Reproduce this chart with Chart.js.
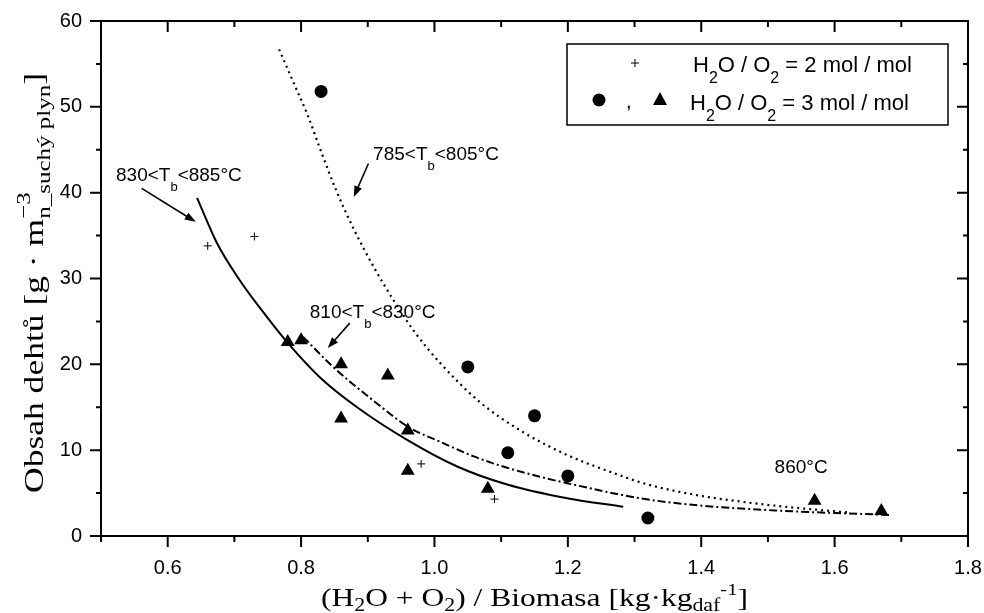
<!DOCTYPE html>
<html>
<head>
<meta charset="utf-8">
<script src="https://cdn.jsdelivr.net/npm/chart.js@4.4.0/dist/chart.umd.min.js"></script>
<style>
  body { margin: 0; background: #fff; }
</style>
</head>
<body>
<canvas id="graf" width="984" height="613"></canvas>
<script>
// namerene body
const plusX = [0.66, 0.73, 0.98, 1.09];
const plusY = [33.8, 34.9, 8.4, 4.3];

const kruhX = [0.83, 1.05, 1.15, 1.11, 1.20, 1.32];
const kruhY = [51.8, 19.7, 14.0, 9.7, 7.0, 2.1];

const trojX = [0.78, 0.80, 0.86, 0.93, 0.86, 0.96, 0.96, 1.08, 1.57, 1.67];
const trojY = [22.6, 22.8, 20.0, 18.7, 13.7, 12.3, 7.6, 5.5, 4.1, 2.9];

// krivky
const plnaX = [0.644, 0.674, 0.708, 0.749, 0.780, 0.828, 0.884, 0.959, 1.034, 1.109, 1.199, 1.283];
const plnaY = [39.4, 34.1, 29.8, 25.5, 22.5, 18.5, 15.0, 11.2, 8.1, 6.0, 4.4, 3.4];

const carbX = [0.803, 0.848, 0.908, 0.963, 1.008, 1.058, 1.109, 1.158, 1.199, 1.308, 1.398, 1.518, 1.683];
const carbY = [23.2, 19.7, 15.8, 12.6, 11.0, 9.3, 7.95, 6.9, 6.15, 4.4, 3.55, 2.95, 2.45];

const tecX = [0.767, 0.790, 0.809, 0.830, 0.853, 0.880, 0.910, 0.940, 0.970, 1.008, 1.068, 1.133, 1.200, 1.259, 1.320, 1.398, 1.470, 1.540, 1.620];
const tecY = [56.7, 52.6, 49.2, 44.8, 40.2, 35.6, 31.2, 27.3, 23.8, 20.2, 15.6, 12.1, 9.4, 7.6, 6.0, 4.7, 3.9, 3.3, 2.75];

const xMin = 0.5, xMax = 1.8;
const yMin = 0, yMax = 60;

function body(xs, ys) {
  return xs.map((x, i) => ({ x: x, y: ys[i] }));
}

const sans = "'Liberation Sans', Arial, sans-serif";
const serif = "'Liberation Serif', 'Times New Roman', serif";

// text s indexy: casti [text, velikost, posun y, stack]
function bohatyText(ctx, casti, font) {
  let w = 0;
  let i = 0;
  const polozky = [];
  while (i < casti.length) {
    const c = casti[i];
    ctx.font = c[1] + "px " + font;
    const sirka = ctx.measureText(c[0]).width;
    if (c[3] && i + 1 < casti.length) {
      const d = casti[i + 1];
      ctx.font = d[1] + "px " + font;
      const sirka2 = ctx.measureText(d[0]).width;
      polozky.push({ t: c[0], s: c[1], dy: c[2], x: w });
      polozky.push({ t: d[0], s: d[1], dy: d[2], x: w });
      w += Math.max(sirka, sirka2);
      i += 2;
    } else {
      polozky.push({ t: c[0], s: c[1], dy: c[2], x: w });
      w += sirka;
      i += 1;
    }
  }
  return { polozky: polozky, sirka: w };
}

function kresliText(ctx, casti, font, x, y, cilovaSirka) {
  const r = bohatyText(ctx, casti, font);
  let k = 1;
  if (cilovaSirka) k = cilovaSirka / r.sirka;
  ctx.save();
  ctx.translate(x, y);
  ctx.scale(k, 1);
  ctx.fillStyle = "#000";
  ctx.textBaseline = "alphabetic";
  ctx.textAlign = "left";
  r.polozky.forEach((p) => {
    ctx.font = p.s + "px " + font;
    ctx.fillText(p.t, p.x, p.dy);
  });
  ctx.restore();
  return r.sirka * k;
}

function sipka(ctx, x1, y1, x2, y2) {
  const uhel = Math.atan2(y2 - y1, x2 - x1);
  const d = 11, s = 4;
  ctx.save();
  ctx.strokeStyle = "#000";
  ctx.fillStyle = "#000";
  ctx.lineWidth = 1.6;
  ctx.beginPath();
  ctx.moveTo(x1, y1);
  ctx.lineTo(x2 - Math.cos(uhel) * d * 0.8, y2 - Math.sin(uhel) * d * 0.8);
  ctx.stroke();
  ctx.beginPath();
  ctx.moveTo(x2, y2);
  ctx.lineTo(x2 - Math.cos(uhel) * d - Math.sin(uhel) * s, y2 - Math.sin(uhel) * d + Math.cos(uhel) * s);
  ctx.lineTo(x2 - Math.cos(uhel) * d + Math.sin(uhel) * s, y2 - Math.sin(uhel) * d - Math.cos(uhel) * s);
  ctx.closePath();
  ctx.fill();
  ctx.restore();
}

// ramecek a carky os
const ramecek = {
  id: "ramecek",
  afterDatasetsDraw(chart) {
    const ctx = chart.ctx;
    const a = chart.chartArea;
    const sx = chart.scales.x, sy = chart.scales.y;
    ctx.save();
    ctx.strokeStyle = "#000";
    ctx.lineWidth = 2;
    ctx.strokeRect(a.left, a.top, a.right - a.left, a.bottom - a.top);
    ctx.lineWidth = 2;
    sx.ticks.forEach((t) => {
      const px = sx.getPixelForValue(t.value);
      const velka = Math.round(t.value * 10) % 2 === 0;
      const dl = velka ? 11 : 6;
      ctx.beginPath();
      ctx.moveTo(px, a.bottom);
      ctx.lineTo(px, a.bottom + dl);
      ctx.moveTo(px, a.top);
      ctx.lineTo(px, a.top + dl);
      ctx.stroke();
    });
    sy.ticks.forEach((t) => {
      const py = sy.getPixelForValue(t.value);
      const velka = Math.round(t.value) % 10 === 0;
      const dl = velka ? 11 : 5;
      ctx.beginPath();
      ctx.moveTo(a.left, py);
      ctx.lineTo(a.left - dl, py);
      ctx.moveTo(a.right, py);
      ctx.lineTo(a.right - dl, py);
      ctx.stroke();
    });
    ctx.restore();
  },
};

// popisky krivek a sipky
const popisky = {
  id: "popisky",
  afterDatasetsDraw(chart) {
    const ctx = chart.ctx;
    const sx = chart.scales.x, sy = chart.scales.y;
    const X = (v) => sx.getPixelForValue(v);
    const Y = (v) => sy.getPixelForValue(v);

    kresliText(ctx, [["830<T", 19, 0], ["b", 13, 10], ["<885°C", 19, 0]], sans, X(0.5225), Y(41.4));
    kresliText(ctx, [["785<T", 19, 0], ["b", 13, 10], ["<805°C", 19, 0]], sans, X(0.908), Y(43.8));
    kresliText(ctx, [["810<T", 19, 0], ["b", 13, 10], ["<830°C", 19, 0]], sans, X(0.813), Y(25.4));
    kresliText(ctx, [["860°C", 19, 0]], sans, X(1.51), Y(7.3));

    sipka(ctx, X(0.561), Y(40.5), X(0.642), Y(36.6));
    sipka(ctx, X(0.901), Y(43.4), X(0.879), Y(39.5));
    sipka(ctx, X(0.873), Y(24.8), X(0.840), Y(21.9));
  },
};

// legenda
const legenda = {
  id: "legenda",
  afterDatasetsDraw(chart) {
    const ctx = chart.ctx;
    ctx.save();
    ctx.fillStyle = "#fff";
    ctx.fillRect(567, 44, 381, 81);
    ctx.strokeStyle = "#000";
    ctx.lineWidth = 1.5;
    ctx.strokeRect(567, 44, 381, 81);

    // +
    ctx.lineWidth = 1;
    ctx.beginPath();
    ctx.moveTo(631, 63); ctx.lineTo(639, 63);
    ctx.moveTo(635, 59); ctx.lineTo(635, 67);
    ctx.stroke();
    // kruh
    ctx.fillStyle = "#000";
    ctx.beginPath();
    ctx.arc(599, 100, 6.5, 0, Math.PI * 2);
    ctx.fill();
    // trojuhelnik
    ctx.beginPath();
    ctx.moveTo(660, 92);
    ctx.lineTo(667, 105);
    ctx.lineTo(653, 105);
    ctx.closePath();
    ctx.fill();
    ctx.restore();

    ctx.save();
    ctx.font = "20px " + sans;
    ctx.fillStyle = "#000";
    ctx.fillText(",", 626, 108);
    ctx.restore();

    kresliText(ctx, [["H", 22, 0], ["2", 16, 11], ["O / O", 22, 0], ["2", 16, 11], [" = 2 mol / mol", 22, 0]], sans, 693, 72);
    kresliText(ctx, [["H", 22, 0], ["2", 16, 11], ["O / O", 22, 0], ["2", 16, 11], [" = 3 mol / mol", 22, 0]], sans, 690, 110);
  },
};

// nazvy os
const nazvyOs = {
  id: "nazvyOs",
  afterDraw(chart) {
    const ctx = chart.ctx;
    kresliText(ctx, [
      ["(H", 26, 0], ["2", 18, 5], ["O + O", 26, 0], ["2", 18, 5],
      [") / Biomasa [kg·kg", 26, 0], ["daf", 18, 5], ["-1", 17, -11], ["]", 26, 0],
    ], serif, 321, 606, 427);

    const casti = [
      ["Obsah dehtů [g · m", 27, 0],
      ["−3", 19, -13, true], ["n_suchý plyn", 19, 7],
      ["]", 27, 0],
    ];
    ctx.save();
    ctx.translate(43, 493);
    ctx.rotate(-Math.PI / 2);
    kresliText(ctx, casti, serif, 0, 0, 420);
    ctx.restore();
  },
};

const ctxGraf = document.getElementById("graf").getContext("2d");
const graf = new Chart(ctxGraf, {
  type: "scatter",
  data: {
    datasets: [
      {
        label: "830<Tb<885°C",
        data: body(plnaX, plnaY),
        showLine: true,
        borderColor: "#000",
        borderWidth: 2,
        pointRadius: 0,
        cubicInterpolationMode: "monotone",
      },
      {
        label: "810<Tb<830°C",
        data: body(carbX, carbY),
        showLine: true,
        borderColor: "#000",
        borderWidth: 2,
        borderDash: [8, 3, 2, 3],
        pointRadius: 0,
        cubicInterpolationMode: "monotone",
      },
      {
        label: "785<Tb<805°C",
        data: body(tecX, tecY),
        showLine: true,
        borderColor: "#000",
        borderWidth: 2.2,
        borderDash: [2, 4],
        pointRadius: 0,
        cubicInterpolationMode: "monotone",
      },
      {
        label: "H2O / O2 = 2 mol / mol",
        data: body(plusX, plusY),
        pointStyle: "cross",
        pointRadius: 4,
        borderColor: "#000",
        borderWidth: 1,
      },
      {
        label: "H2O / O2 = 3 mol / mol (kruh)",
        data: body(kruhX, kruhY),
        pointStyle: "circle",
        pointRadius: 6.5,
        backgroundColor: "#000",
        borderColor: "#000",
        borderWidth: 0,
      },
      {
        label: "H2O / O2 = 3 mol / mol (trojuhelnik)",
        data: body(trojX, trojY),
        pointStyle: "triangle",
        pointRadius: 8,
        backgroundColor: "#000",
        borderColor: "#000",
        borderWidth: 0,
      },
    ],
  },
  options: {
    responsive: false,
    animation: false,
    layout: { padding: { left: 0, right: 16, top: 21, bottom: 0 } },
    plugins: {
      legend: { display: false },
      tooltip: { enabled: false },
    },
    scales: {
      x: {
        type: "linear",
        min: xMin,
        max: xMax,
        afterFit: (s) => {
          s.height = 77;
          s.paddingLeft = 0;
          s.paddingRight = 0;
        },
        grid: { display: false, drawTicks: false },
        border: { display: false },
        ticks: {
          stepSize: 0.1,
          autoSkip: false,
          maxRotation: 0,
          padding: 20,
          color: "#000",
          font: { family: sans, size: 20 },
          callback: (v) => {
            const n = Math.round(v * 10);
            return n % 2 === 0 ? (n / 10).toFixed(1) : "";
          },
        },
      },
      y: {
        type: "linear",
        min: yMin,
        max: yMax,
        afterFit: (s) => {
          s.width = 101;
          s.paddingTop = 0;
          s.paddingBottom = 0;
        },
        grid: { display: false, drawTicks: false },
        border: { display: false },
        ticks: {
          stepSize: 5,
          autoSkip: false,
          padding: 19,
          color: "#000",
          font: { family: sans, size: 20 },
          callback: (v) => (Math.round(v) % 10 === 0 ? String(Math.round(v)) : ""),
        },
      },
    },
  },
  plugins: [ramecek, popisky, legenda, nazvyOs],
});
</script>
</body>
</html>
